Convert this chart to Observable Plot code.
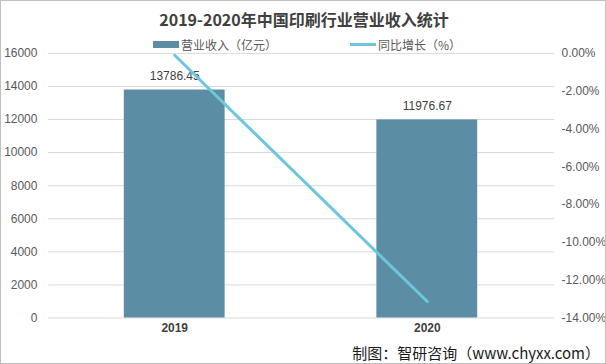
<!DOCTYPE html>
<html>
<head>
<meta charset="utf-8">
<script src="https://cdn.jsdelivr.net/npm/d3@7"></script>
<script src="https://cdn.jsdelivr.net/npm/@observablehq/plot@0.6"></script>
<style>
  html, body { margin: 0; padding: 0; background: #fff; }
  #wrap { position: relative; width: 606px; height: 364px; box-sizing: border-box; border: 1px solid #bfbfbf; overflow: hidden; font-family: "Noto Sans CJK SC", "Liberation Sans", sans-serif; }
  #chart { position: absolute; left: -1px; top: -1px; }
  #title { position: absolute; left: 0; width: 606px; top: 6px; text-align: center; font-size: 16px; font-weight: bold; color: #404040; }
  .leg { position: absolute; top: 35px; font-size: 12px; color: #595959; display: flex; align-items: center; white-space: nowrap; }
  .sw { display: inline-block; width: 26px; margin-right: 2px; }
  #caption { position: absolute; right: 5px; top: 341px; font-size: 15px; color: #1a1a1a; white-space: nowrap; }
</style>
</head>
<body>
<div id="wrap">
  <div id="chart"></div>
  <div id="title"></div>
  <div class="leg" id="leg1" style="left:152px"><span class="sw" id="sw1" style="height:7px"></span><span id="lt1"></span></div>
  <div class="leg" id="leg2" style="left:349px"><span class="sw" id="sw2" style="height:3px"></span><span id="lt2"></span></div>
  <div id="caption"></div>
</div>
<script>
const titleText = "2019-2020年中国印刷行业营业收入统计";
const seriesNames = ["营业收入（亿元）", "同比增长（%）"];
const captionText = "制图：智研咨询（www.chyxx.com）";
const years = ["2019", "2020"];
const revenue = [13786.45, 11976.67];
const growth = [-0.1, -13.13];
const leftTicks = [0, 2000, 4000, 6000, 8000, 10000, 12000, 14000, 16000];
const rightTicks = [0, -2, -4, -6, -8, -10, -12, -14];

const barColor = "#5b8ea5";
const lineColor = "#6cc7dc";

const data = years.map((y, i) => ({year: y, revenue: revenue[i], growth: growth[i]}));
const toY = v => (v + 14) / 14 * 16000;

document.getElementById("title").textContent = titleText;
document.getElementById("lt1").textContent = seriesNames[0];
document.getElementById("lt2").textContent = seriesNames[1];
document.getElementById("sw1").style.background = barColor;
document.getElementById("sw2").style.background = lineColor;
document.getElementById("caption").textContent = captionText;

const chart = Plot.plot({
  width: 606,
  height: 364,
  marginTop: 53,
  marginBottom: 46,
  marginLeft: 48,
  marginRight: 51,
  style: {fontFamily: "'Liberation Sans', 'Noto Sans CJK SC', sans-serif", fontSize: "12px", color: "#595959", background: "transparent"},
  x: {domain: years, paddingInner: 0.6, paddingOuter: 0.3},
  y: {domain: [0, 16000]},
  marks: [
    Plot.ruleY(leftTicks, {stroke: "#d9d9d9", strokeWidth: 1}),
    Plot.barY(data, {x: "year", y: "revenue", fill: barColor}),
    Plot.text(data, {x: "year", y: "revenue", text: d => d.revenue.toFixed(2), dy: -14, fill: "#404040", fontSize: 12}),
    Plot.line(data, {x: "year", y: d => toY(d.growth), stroke: lineColor, strokeWidth: 3}),
    Plot.axisY({ticks: leftTicks, tickFormat: d => String(d), tickSize: 0, tickPadding: 11, label: null}),
    Plot.axisY({anchor: "right", ticks: rightTicks.map(toY), tickFormat: v => (v / 16000 * 14 - 14).toFixed(2) + "%", tickSize: 0, tickPadding: 7, label: null}),
    Plot.axisX({tickSize: 0, tickPadding: 6, fontWeight: "bold", fill: "#404040", label: null})
  ]
});
document.getElementById("chart").appendChild(chart);
</script>
</body>
</html>
